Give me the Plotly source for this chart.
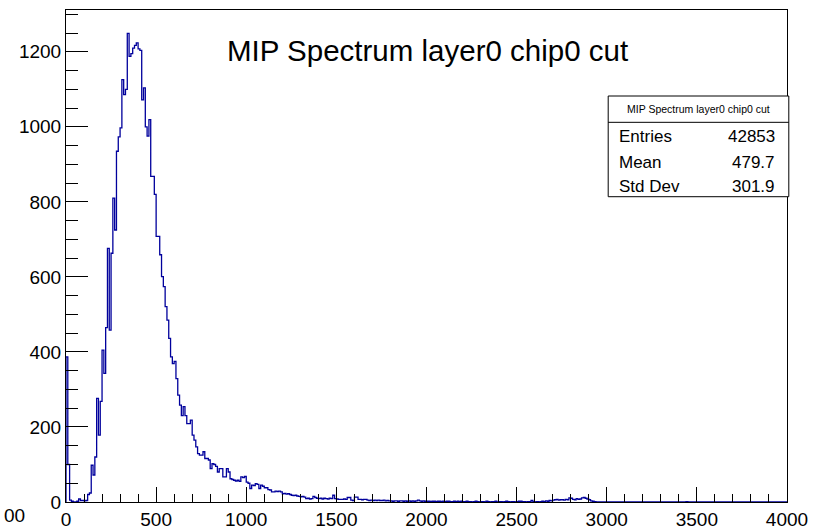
import numpy as np
import plotly.graph_objects as go

# Histogram binning: 400 bins of width 10 over [0, 4000]
BIN_WIDTH = 10
X_MIN, X_MAX = 0, 4000

# Bin contents, in order from the first bin
counts_0_13 = [387, 100, 5, 2, 0, 0, 2, 8, 4, 4, 3, 4, 20, 24]
counts_14_30 = [98, 72, 120, 276, 178, 268, 405, 343, 465, 676, 458, 663,
                810, 725, 935, 973, 997]
counts_31_51 = [1126, 1086, 1100, 1249, 1188, 1195, 1210, 1217, 1224, 1208,
                1204, 1072, 1104, 1000, 975, 1019, 868, 868, 820, 708, 708]
counts_52_73 = [659, 601, 574, 521, 485, 436, 387, 369, 375, 329, 285, 258,
                230, 254, 230, 209, 209, 218, 178, 165, 147, 129]
counts_74_99 = [125, 125, 134, 116, 116, 112, 89, 102, 100, 95, 80, 89, 89,
                67, 67, 89, 80, 62, 60, 58, 56, 58, 55, 67, 65, 68]
counts_100_149 = [53, 50, 36, 45, 44, 49, 47, 36, 45, 42,
                  38, 38, 33, 32, 27, 27, 29, 28, 29, 27,
                  22, 23, 21, 22, 20, 18, 17, 18, 16, 15,
                  14, 15, 13, 9, 10, 8, 9, 15, 12, 10,
                  9, 10, 8, 10, 9, 8, 10, 9, 18, 9]
counts_150_200 = [8, 7, 7, 7, 8, 7, 12, 12, 5, 4,
                  13, 13, 7, 7, 6, 7, 7, 5, 4, 5,
                  4, 5, 4, 5, 4, 4, 5, 3, 4, 3,
                  3, 2, 3, 3, 2, 3, 3, 2, 3, 2,
                  3, 2, 3, 2, 3, 5, 3, 2, 3, 2, 2]
counts_201_257 = [2, 1, 2, 2, 1, 2, 2, 1, 2, 1, 2, 2, 1, 1, 2, 1, 2, 1, 2, 1,
                  1, 2, 1, 1, 0, 1, 2, 1, 0, 1, 1, 0, 2, 1, 0, 1, 1, 2, 0, 1,
                  1, 0, 1, 2, 1, 0, 1, 1, 0, 1, 2, 2, 1, 1, 0, 1, 1]
counts_258_293 = [4, 1, 0, 1, 0, 1, 2, 1, 3, 2, 4, 3, 5, 6, 7, 5, 6, 6, 5, 7,
                  6, 11, 10, 7, 6, 9, 7, 8, 11, 12, 10, 8, 6, 3, 2, 1]
# isolated entries further out in the tail
far_tail_bins = [344]
far_tail_counts = [1]

# Statistics box contents
stats_title = "MIP Spectrum layer0 chip0 cut"
stats_names = ["Entries", "Mean", "Std Dev"]
stats_values = ["42853", "479.7", "301.9"]

n_bins = (X_MAX - X_MIN) // BIN_WIDTH
counts = np.zeros(n_bins)
head = (counts_0_13 + counts_14_30 + counts_31_51 + counts_52_73 + counts_74_99
        + counts_100_149 + counts_150_200 + counts_201_257 + counts_258_293)
counts[:len(head)] = head
for b, c in zip(far_tail_bins, far_tail_counts):
    counts[b] = c

edges = X_MIN + BIN_WIDTH * np.arange(n_bins + 1)
step_x = np.concatenate([[edges[0]], edges[:-1], [edges[-1]]])
step_y = np.concatenate([[0], counts, [counts[-1]]])

y_max = 1.05 * counts.max()

LINE_BLUE = "#00009c"
FONT = "Liberation Sans, Arial, Helvetica, sans-serif"

fig = go.Figure()
fig.add_trace(go.Scatter(
    x=step_x, y=step_y, mode="lines", line_shape="hv",
    line=dict(color=LINE_BLUE, width=1.3), hoverinfo="skip", showlegend=False,
))

axis_common = dict(
    showline=True, linecolor="black", linewidth=1, mirror=True,
    showgrid=False, zeroline=False, ticks="inside", tickcolor="black",
    tickwidth=1, tickfont=dict(family=FONT, size=19, color="black"),
    automargin=False,
)

fig.update_layout(
    width=818, height=530,
    margin=dict(l=66, r=31, t=10, b=28, autoexpand=False),
    paper_bgcolor="white", plot_bgcolor="white",
    xaxis=dict(range=[X_MIN, X_MAX], dtick=500, tick0=0, ticklen=15,
               minor=dict(dtick=100, ticklen=8, ticks="inside",
                          tickcolor="black", tickwidth=1),
               **axis_common),
    yaxis=dict(range=[0, y_max], dtick=200, tick0=0, ticklen=22,
               minor=dict(dtick=50, ticklen=12, ticks="inside",
                          tickcolor="black", tickwidth=1),
               **axis_common),
)

# Statistics box (plot-area fractions)
bx0, bx1 = 0.752, 1.0025
by0, by1 = 0.6205, 0.8252
by_sep = 0.7717
fig.add_shape(type="rect", xref="paper", yref="paper", x0=bx0, x1=bx1,
              y0=by0, y1=by1, line=dict(color="black", width=1),
              fillcolor="white", layer="above")
fig.add_shape(type="line", xref="paper", yref="paper", x0=bx0, x1=bx1,
              y0=by_sep, y1=by_sep, line=dict(color="black", width=1))

annotations = [
    dict(text="MIP Spectrum layer0 chip0 cut", x=0.5007, y=0.918,
         xanchor="center", yanchor="middle",
         font=dict(family=FONT, size=29.5, color="black")),
    dict(text=stats_title, x=(bx0 + bx1) / 2, y=(by1 + by_sep) / 2,
         xanchor="center", yanchor="middle",
         font=dict(family=FONT, size=10.5, color="black")),
    dict(text="00", x=-0.0888, y=-0.0275, xanchor="left", yanchor="middle",
         font=dict(family=FONT, size=19, color="black")),
]
row_y = [0.742, 0.691, 0.642]
for name, val, ry in zip(stats_names, stats_values, row_y):
    annotations.append(dict(text=name, x=0.7642, y=ry, xanchor="left",
                            yanchor="middle",
                            font=dict(family=FONT, size=17, color="black")))
    annotations.append(dict(text=val, x=0.9857, y=ry, xanchor="right",
                            yanchor="middle",
                            font=dict(family=FONT, size=17, color="black")))
for a in annotations:
    a.update(xref="paper", yref="paper", showarrow=False)
fig.update_layout(annotations=annotations)

fig.write_html("out.html")
